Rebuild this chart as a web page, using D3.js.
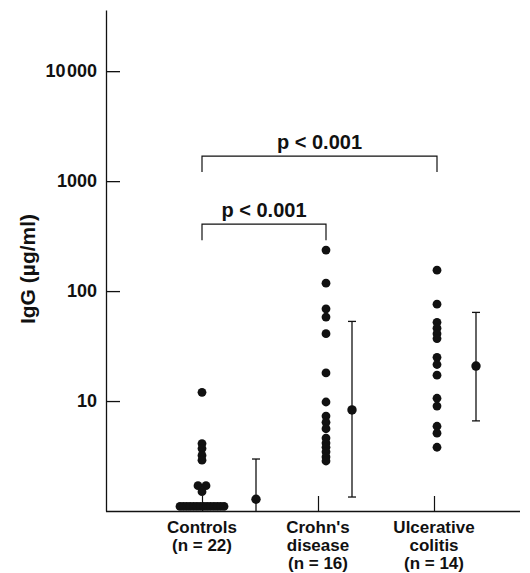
<!DOCTYPE html>
<html>
<head>
<meta charset="utf-8">
<script src="https://cdn.jsdelivr.net/npm/d3@7"></script>
<style>
  body { margin: 0; background: #fff; }
  text { font-family: "Liberation Sans", Arial, sans-serif; fill: #111; }
</style>
</head>
<body>
<script>
// --- data ---
var categories = ['Controls', "Crohn's disease", 'Ulcerative colitis'];
var catLines = [['Controls', '(n = 22)'], ["Crohn's", 'disease', '(n = 16)'], ['Ulcerative', 'colitis', '(n = 14)']];

var controls = [12, 4.1, 3.7, 3.2, 2.9, 1.7, 1.7, 1.5,
                1.1, 1.1, 1.1, 1.1, 1.1, 1.1, 1.1, 1.1, 1.1, 1.1, 1.1, 1.1, 1.1, 1.1];
var crohns = [236, 118, 69, 58, 41, 18, 9.8, 7.3, 6.4, 5.6, 4.6, 4.15, 3.8, 3.45, 3.1, 2.85];
var colitis = [155, 76, 52, 46, 41, 37, 25, 21.5, 17.2, 10.6, 9, 5.9, 5.1, 3.8];

var means = [1.28, 8.3, 20.8];
var upper = [2.97, 53, 64];
var lower = [0.55, 1.34, 6.6];

var yTicks = [10, 100, 1000, 10000];
var yTickLabels = ['10', '100', '1000', '10\u200a000'];

var compFrom = ['Controls', 'Controls'];
var compTo = ['Ulcerative colitis', "Crohn's disease"];
var compLevel = [1690, 406];
var compText = ['p < 0.001', 'p < 0.001'];

// --- layout ---
var width = 530, height = 573;
var dotShift = [0, 8, 3], errShift = [54, 34, 42];
var r = 4.4;

var svg = d3.select('body').append('svg').attr('width', width).attr('height', height);

var x = d3.scalePoint().domain(categories).range([202, 434]);
var y = d3.scaleLog().domain([1, 36000]).range([511, 10]);

// y axis
var yAxis = svg.append('g').attr('transform', 'translate(106,0)')
    .call(d3.axisLeft(y).tickValues(yTicks).tickFormat(function(d, i) { return yTickLabels[i]; })
        .tickSizeInner(-14).tickSizeOuter(0).tickPadding(9));
yAxis.select('.domain').attr('stroke', '#111').attr('stroke-width', 1.3);
yAxis.selectAll('.tick line').attr('stroke', '#111').attr('stroke-width', 1.3);
yAxis.selectAll('.tick text').attr('font-size', 18).attr('font-weight', 'bold')
    .attr('font-family', '"Liberation Sans", Arial, sans-serif').attr('fill', '#111');

// x axis
var xAxis = svg.append('g').attr('transform', 'translate(0,' + y(1) + ')')
    .call(d3.axisBottom(x).tickSizeInner(-15).tickSizeOuter(0).tickFormat(''));
xAxis.select('.domain').attr('d', 'M106,0.5H520').attr('stroke', '#111').attr('stroke-width', 1.3);
xAxis.selectAll('.tick line').attr('stroke', '#111').attr('stroke-width', 1.2);

// y label
svg.append('text')
    .attr('transform', 'translate(35,269) rotate(-90)')
    .attr('text-anchor', 'middle')
    .attr('font-size', 21)
    .attr('font-weight', 'bold')
    .text('IgG (\u00b5g/ml)');

// category labels
catLines.forEach(function(lines, i) {
    var t = svg.append('text').attr('text-anchor', 'middle').attr('font-size', 17).attr('font-weight', 'bold');
    lines.forEach(function(s, j) {
        t.append('tspan').attr('x', x(categories[i])).attr('y', 533 + j * 17.8).text(s);
    });
});

// individual values; equal values sit side by side
var groups = [controls, crohns, colitis];
groups.forEach(function(vals, gi) {
    var cx0 = x(categories[gi]) + dotShift[gi];
    var counts = d3.rollup(vals, function(v) { return v.length; }, function(d) { return d; });
    var seen = new Map();
    var pts = vals.map(function(v) {
        var k = counts.get(v), j = seen.get(v) || 0;
        seen.set(v, j + 1);
        var step = k > 1 ? Math.min(8, 44 / (k - 1)) : 0;
        return { v: v, dx: (j - (k - 1) / 2) * step };
    });
    svg.append('g').selectAll('circle').data(pts).enter().append('circle')
        .attr('cx', function(d) { return cx0 + d.dx; })
        .attr('cy', function(d) { return y(d.v); })
        .attr('r', r)
        .attr('fill', '#111');
});

// mean and range bars
svg.append('clipPath').attr('id', 'plot').append('rect')
    .attr('x', 106).attr('y', 0).attr('width', 420).attr('height', y(1));
var err = svg.append('g').attr('clip-path', 'url(#plot)');
categories.forEach(function(c, i) {
    var ex = x(c) + errShift[i];
    err.append('line').attr('x1', ex).attr('x2', ex).attr('y1', y(upper[i])).attr('y2', y(lower[i]))
        .attr('stroke', '#111').attr('stroke-width', 1.3);
    [upper[i], lower[i]].forEach(function(v) {
        err.append('line').attr('x1', ex - 4).attr('x2', ex + 4).attr('y1', y(v)).attr('y2', y(v))
            .attr('stroke', '#111').attr('stroke-width', 1.3);
    });
    err.append('circle').attr('cx', ex).attr('cy', y(means[i])).attr('r', r + 0.3).attr('fill', '#111');
});

// significance brackets
compFrom.forEach(function(a, i) {
    var ia = categories.indexOf(a), ib = categories.indexOf(compTo[i]);
    var x1 = x(a) + dotShift[ia], x2 = x(compTo[i]) + dotShift[ib];
    var yy = y(compLevel[i]);
    svg.append('path')
        .attr('d', 'M' + x1 + ',' + (yy + 16) + 'V' + yy + 'H' + x2 + 'V' + (yy + 16))
        .attr('fill', 'none').attr('stroke', '#111').attr('stroke-width', 1.2);
    svg.append('text').attr('x', (x1 + x2) / 2).attr('y', yy - 7)
        .attr('text-anchor', 'middle').attr('font-size', 20).attr('font-weight', 'bold').text(compText[i]);
});
</script>
</body>
</html>
